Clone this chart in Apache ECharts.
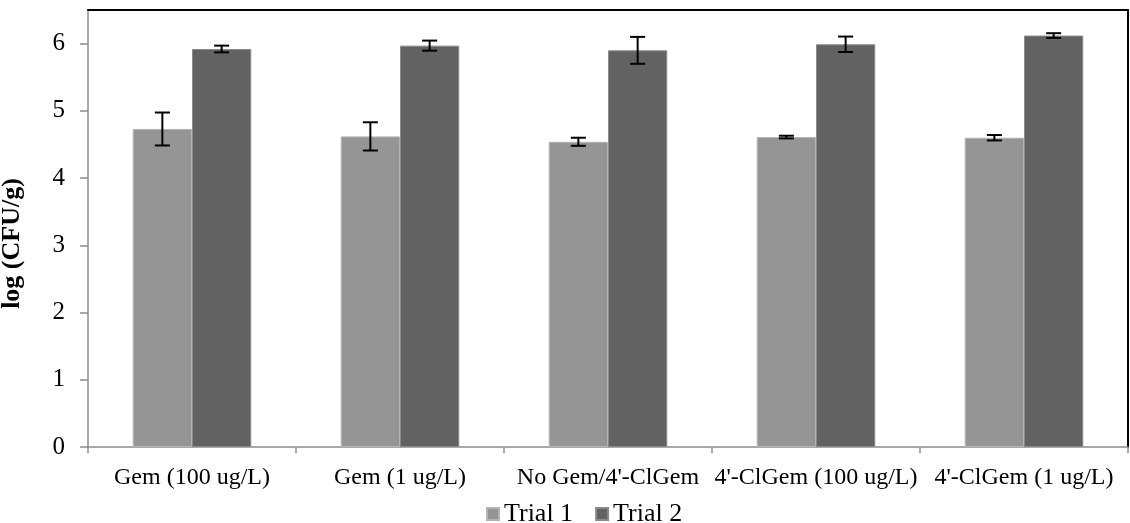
<!DOCTYPE html>
<html>
<head>
<meta charset="utf-8">
<script src="https://cdn.jsdelivr.net/npm/echarts@6/dist/echarts.min.js"></script>
<style>
  html, body { margin: 0; padding: 0; background: #fff; }
  #chart1 { width: 1130px; height: 523px; }
</style>
</head>
<body>
<div id="chart1"></div>
<script>
var categories = ["Gem (100 ug/L)", "Gem (1 ug/L)", "No Gem/4'-ClGem", "4'-ClGem (100 ug/L)", "4'-ClGem (1 ug/L)"];
var trial1 = [4.73, 4.62, 4.54, 4.61, 4.60];
var trial1Err = [0.245, 0.21, 0.06, 0.02, 0.04];
var trial2 = [5.92, 5.97, 5.90, 5.99, 6.12];
var trial2Err = [0.05, 0.075, 0.20, 0.115, 0.035];
var yTicks = [0, 1, 2, 3, 4, 5, 6];

var font = "'Liberation Serif', 'Times New Roman', serif";
var gapPct = 0.43;

function errData(vals, errs) {
  return vals.map(function (v, i) {
    return [i, v - errs[i], v + errs[i]];
  });
}

function errSeries(vals, errs, side) {
  return {
    type: "custom",
    silent: true,
    z: 5,
    data: errData(vals, errs),
    encode: { x: 0, y: [1, 2] },
    renderItem: function (params, api) {
      var band = api.size([1, 0])[0];
      var barW = band * (1 - gapPct) / 2;
      var lo = api.coord([api.value(0), api.value(1)]);
      var hi = api.coord([api.value(0), api.value(2)]);
      var x = lo[0] + side * barW / 2;
      var cap = 7.5;
      var st = { stroke: "#000", lineWidth: 2 };
      return {
        type: "group",
        children: [
          { type: "line", shape: { x1: x, y1: lo[1], x2: x, y2: hi[1] }, style: st },
          { type: "line", shape: { x1: x - cap, y1: lo[1], x2: x + cap, y2: lo[1] }, style: st },
          { type: "line", shape: { x1: x - cap, y1: hi[1], x2: x + cap, y2: hi[1] }, style: st },
        ],
      };
    },
  };
}

var chartDom = document.getElementById("chart1");
var myChart = echarts.init(chartDom);
var option = {
  animation: false,
  textStyle: { fontFamily: font },
  grid: { left: 88, right: 2, top: 10, bottom: 76, outerBoundsMode: "none", containLabel: false },
  legend: {
    data: ["Trial 1", "Trial 2"],
    left: 481,
    top: 496,
    itemWidth: 12,
    itemHeight: 12,
    itemGap: 22,
    icon: "rect",
    textStyle: { fontFamily: font, fontSize: 26, color: "#000" },
  },
  xAxis: [
    {
      type: "category",
      data: categories,
      axisLine: { onZero: false, lineStyle: { color: "#8c8c8c", width: 1.5 } },
      axisTick: { show: true, length: 6, lineStyle: { color: "#8c8c8c", width: 1.5 } },
      axisLabel: { color: "#000", fontSize: 24, fontFamily: font, margin: 19, interval: 0 },
      splitLine: { show: false },
    },
    {
      type: "category",
      position: "top",
      data: categories,
      axisLine: { onZero: false, lineStyle: { color: "#000", width: 2 } },
      axisTick: { show: false },
      axisLabel: { show: false },
    },
  ],
  yAxis: [
    {
      type: "value",
      min: 0,
      max: 6.5,
      interval: 1,
      name: "log (CFU/g)",
      nameLocation: "middle",
      nameGap: 63,
      nameTextStyle: { fontFamily: font, fontSize: 26, fontWeight: "bold", color: "#000", padding: [0, 30, 0, 0] },
      axisLine: { show: true, onZero: false, lineStyle: { color: "#8c8c8c", width: 1.5 } },
      axisTick: { show: true, length: 8, customValues: yTicks, lineStyle: { color: "#8c8c8c", width: 1.5 } },
      axisLabel: { color: "#000", fontSize: 25, fontFamily: font, margin: 23, customValues: yTicks },
      splitLine: { show: false },
    },
    {
      type: "value",
      position: "right",
      min: 0,
      max: 6.5,
      interval: 1,
      axisLine: { show: true, onZero: false, lineStyle: { color: "#000", width: 2 } },
      axisTick: { show: false },
      axisLabel: { show: false },
      splitLine: { show: false },
    },
  ],
  series: [
    {
      name: "Trial 1",
      type: "bar",
      data: trial1,
      barGap: "0%",
      barCategoryGap: gapPct * 100 + "%",
      itemStyle: { color: "#959595", borderColor: "#b4b4b4", borderWidth: 1 },
    },
    {
      name: "Trial 2",
      type: "bar",
      data: trial2,
      itemStyle: { color: "#626262", borderColor: "#8a8a8a", borderWidth: 1 },
    },
    errSeries(trial1, trial1Err, -1),
    errSeries(trial2, trial2Err, 1),
  ],
};
option && myChart.setOption(option);
</script>
</body>
</html>
